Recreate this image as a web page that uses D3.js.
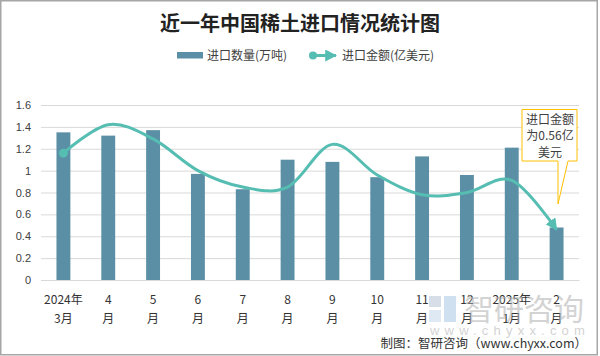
<!DOCTYPE html>
<html><head><meta charset="utf-8">
<script src="https://cdn.jsdelivr.net/npm/d3@7"></script>
<style>
html,body{margin:0;padding:0;background:#fff;}
svg{display:block;font-family:"Noto Sans CJK SC","Noto Sans",sans-serif;}
</style></head>
<body>
<svg id="c" width="600" height="356"></svg>
<script>
const categories = ["2024年|3月","4|月","5|月","6|月","7|月","8|月","9|月","10|月","11|月","12|月","2025年|1月","2|月"];
const quantity = [1.35,1.32,1.37,0.97,0.83,1.10,1.08,0.94,1.13,0.96,1.21,0.48];
const amount = [1.16,1.42,1.29,1.00,0.85,0.85,1.24,0.96,0.78,0.80,0.91,0.46];
const yTicks = [0,0.2,0.4,0.6,0.8,1,1.2,1.4,1.6];
const seriesNames = ["进口数量(万吨)","进口金额(亿美元)"];
const titleText = "近一年中国稀土进口情况统计图";
const calloutLines = ["进口金额","为0.56亿","美元"];
const footerText = "制图：智研咨询（www.chyxx.com）";

const barColor = "#5B8FA6", lineColor = "#56BDB2";
const svg = d3.select("#c");

// border
svg.append("rect").attr("x",0.75).attr("y",0.75).attr("width",596.5).attr("height",354)
  .attr("fill","#fff").attr("stroke","#a6a6a6").attr("stroke-width",1.5);

const x = d3.scaleBand().domain(categories).range([41,579]).paddingInner(0.69).paddingOuter(0.345);
const y = d3.scaleLinear().domain([0,1.6]).range([280,105]);

// title
svg.append("text").attr("x",300).attr("y",31).attr("text-anchor","middle")
  .attr("font-size",20).attr("font-weight","bold").attr("fill","#222").text(titleText);

// grid
const yAxis = d3.axisLeft(y).tickValues(yTicks).tickFormat(d=>d3.format("")(d)).tickSize(-538).tickPadding(10);
const gy = svg.append("g").attr("transform","translate(41,0)").call(yAxis);
gy.select(".domain").remove();
gy.selectAll(".tick line").attr("stroke","#d9d9d9");
gy.selectAll(".tick text").attr("font-size",11).attr("fill","#404040").attr("x",-10)
  .attr("font-family","Liberation Sans, Noto Sans, sans-serif");

// bars
svg.append("g").selectAll("rect").data(quantity).join("rect")
  .attr("x",(d,i)=>x(categories[i])).attr("width",x.bandwidth())
  .attr("y",d=>y(d)).attr("height",d=>280-y(d)).attr("fill",barColor);

// x axis
const xAxis = d3.axisBottom(x).tickSize(0).tickFormat("");
const gx = svg.append("g").attr("transform","translate(0,280)").call(xAxis);
gx.select(".domain").attr("stroke","#d9d9d9");
const xl = svg.append("g");
categories.forEach(c=>{
  const parts = c.split("|");
  const cx = x(c)+x.bandwidth()/2;
  parts.forEach((p,j)=>{
    xl.append("text").attr("x",cx).attr("y",304+j*19).attr("text-anchor","middle")
      .attr("font-size",12).attr("fill","#333").text(p);
  });
});

// marker defs
const defs = svg.append("defs");
defs.append("marker").attr("id","arr").attr("viewBox","0 0 10 10").attr("refX",9).attr("refY",5)
  .attr("markerWidth",4).attr("markerHeight",4).attr("orient","auto").attr("markerUnits","strokeWidth")
  .append("path").attr("d","M0,0 L10,5 L0,10 Z").attr("fill",lineColor);

// line
const cxOf = i => x(categories[i]) + x.bandwidth()/2;
const line = d3.line().x((d,i)=>cxOf(i)).y(d=>y(d)).curve(d3.curveCardinal.tension(0));
svg.append("path").datum(amount).attr("d",line).attr("fill","none")
  .attr("stroke",lineColor).attr("stroke-width",3).attr("marker-end","url(#arr)");
svg.append("circle").attr("cx",cxOf(0)).attr("cy",y(amount[0])).attr("r",4.5).attr("fill",lineColor);

// legend
svg.append("rect").attr("x",177).attr("y",52).attr("width",26).attr("height",6.5).attr("fill",barColor);
svg.append("text").attr("x",207).attr("y",59.5).attr("font-size",12).attr("fill","#404040").text(seriesNames[0]);
svg.append("line").attr("x1",312).attr("x2",336).attr("y1",55.5).attr("y2",55.5)
  .attr("stroke",lineColor).attr("stroke-width",3).attr("marker-end","url(#arr)");
svg.append("circle").attr("cx",313).attr("cy",55.5).attr("r",4).attr("fill",lineColor);
svg.append("text").attr("x",342).attr("y",59.5).attr("font-size",12).attr("fill","#404040").text(seriesNames[1]);

// callout
svg.append("path").attr("d","M522,109.5 L577,109.5 L577,161 L568,161 L558,204 L558,161 L522,161 Z")
  .attr("fill","#fff").attr("stroke","#FFC000").attr("stroke-width",1);
calloutLines.forEach((t,i)=>{
  svg.append("text").attr("x",550).attr("y",123.5+i*16.5).attr("text-anchor","middle")
    .attr("font-size",12).attr("fill","#404040").text(t);
});

// watermark
const wm = svg.append("g").attr("opacity",0.55);
wm.append("rect").attr("x",429).attr("y",296).attr("width",12).attr("height",11).attr("fill","#b8c4d4");
wm.append("rect").attr("x",444).attr("y",296).attr("width",12).attr("height",26).attr("fill","#a9c9e6");
wm.append("rect").attr("x",429).attr("y",310).attr("width",12).attr("height",12).attr("fill","#c4d8ec");
wm.append("text").attr("x",464).attr("y",320).attr("font-size",30).attr("fill","#b0b0b0").text("智研咨询");
wm.append("text").attr("x",430).attr("y",335).attr("font-size",13).attr("letter-spacing",5.2)
  .attr("fill","#b0b0b0").attr("font-family","Liberation Sans, sans-serif").text("www.chyxx.com");

// footer
svg.append("text").attr("x",587).attr("y",348).attr("text-anchor","end").attr("font-size",12.5)
  .attr("fill","#333").text(footerText);
</script>
</body></html>
